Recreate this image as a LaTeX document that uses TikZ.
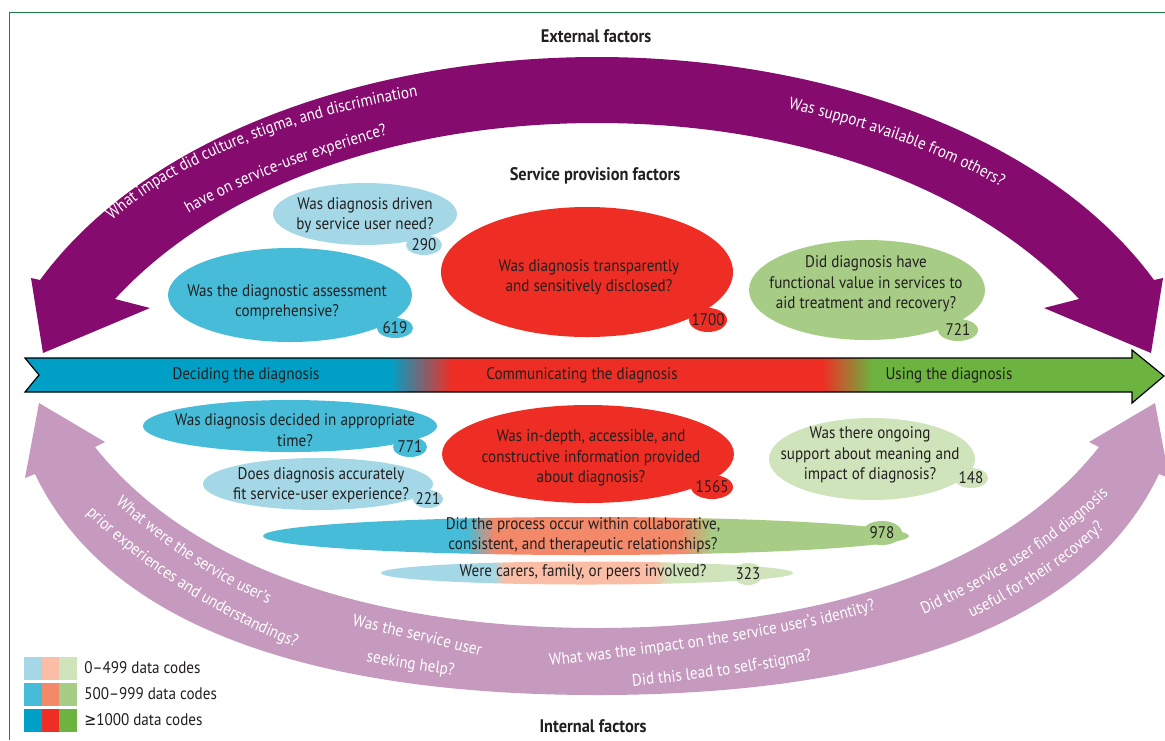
\documentclass[tikz,border=0pt]{standalone}
\usepackage{fontspec}
\setmainfont{PT Sans}[FakeStretch=0.9]
\newfontfamily\symfont{DejaVu Sans}[FakeStretch=0.85]
\usetikzlibrary{decorations.text}

\definecolor{blueL}{RGB}{165,216,230}
\definecolor{orangeL}{RGB}{249,190,165}
\definecolor{greenL}{RGB}{208,228,188}
\definecolor{blueM}{RGB}{71,188,216}
\definecolor{orangeM}{RGB}{243,137,104}
\definecolor{greenM}{RGB}{166,204,133}
\definecolor{blueD}{RGB}{0,160,198}
\definecolor{redD}{RGB}{238,46,36}
\definecolor{greenD}{RGB}{108,179,63}
\definecolor{extPurple}{RGB}{133,12,110}
\definecolor{intPink}{RGB}{197,154,190}
\definecolor{frameGreen}{RGB}{30,125,70}
\definecolor{ink}{RGB}{35,31,32}

\newcommand\qfont{\fontsize{8.4}{10.2}\selectfont}
\newcommand\hfont{\fontsize{9.1}{10}\selectfont\bfseries}

\begin{document}
\begin{tikzpicture}[x=0.5pt,y=-0.5pt,
  qtext/.style={align=center, font=\qfont, text=ink, inner sep=0pt},
  numtext/.style={font=\qfont, text=ink, inner sep=0pt},
  headtext/.style={font=\hfont, text=ink, inner sep=0pt},
  legtext/.style={font=\qfont, text=ink, inner sep=0pt, anchor=west},
  arctext/.style={decorate, decoration={text along path, text align=center,
      text color=white, text={|\qfont|#1}}}]

\useasboundingbox (0,0) rectangle (1165,740);
\fill[white] (0,0) rectangle (1165,740);

% frame
\draw[frameGreen, line width=0.6pt] (1165,12.5) -- (9.5,12.5) -- (9.5,740);

% headings
\node[headtext] (ext) at (596,36) {External factors};
\node[headtext] (svc) at (595,176) {Service provision factors};
\node[headtext] (int) at (593,726) {Internal factors};

% external factors: double-headed arc
\fill[extPurple] (40,280) .. controls (150,130) and (380,57) .. (597,57)
  .. controls (814,57) and (1044,130) .. (1154,280) -- (1163,278) -- (1151,353)
  -- (1044,308) -- (1079,299) .. controls (974,185) and (794,123) .. (597,123)
  .. controls (400,123) and (220,185) .. (115,299) -- (150,308) -- (43,353)
  -- (31,278) -- cycle;
\path[arctext={What impact did culture, stigma, and discrimination}]
  (97,234) .. controls (177,155) and (308,113) .. (438,93);
\path[arctext={have on service-user experience?}]
  (183,217) .. controls (243,180) and (332,150) .. (394,133);
\path[arctext={Was support available from others?}]
  (778,106) .. controls (850,122) and (940,150) .. (1010,192);

% internal factors: double-headed arc
\fill[intPink] (35,474) .. controls (114,640) and (344,695) .. (597,695)
  .. controls (850,695) and (1080,640) .. (1159,474) -- (1169,478) -- (1155,403)
  -- (1089,442) -- (1099,447) .. controls (994,580) and (794,628) .. (597,628)
  .. controls (400,628) and (200,580) .. (95,447) -- (105,442) -- (39,403)
  -- (25,478) -- cycle;
\path[arctext={What were the service user's}]
  (99,489) .. controls (154,539) and (214,584) .. (289,612);
\path[arctext={prior experiences and understandings?}]
  (75,502) .. controls (130,560) and (210,615) .. (310,653);
\path[arctext={Was the service user}]
  (340,623) .. controls (390,634) and (440,645) .. (492,659);
\path[arctext={seeking help?}]
  (355,660) .. controls (390,666) and (430,672) .. (465,677);
\path[arctext={What was the impact on the service user's identity?}]
  (540,667) .. controls (640,655) and (780,640) .. (885,607);
\path[arctext={Did this lead to self-stigma?}]
  (625,687) .. controls (680,682) and (760,672) .. (820,658);
\path[arctext={Did the service user find diagnosis}]
  (912,620) .. controls (980,590) and (1060,545) .. (1118,485);
\path[arctext={useful for their recovery?}]
  (962,622) .. controls (1010,600) and (1070,565) .. (1112,520);

% main process arrow
\draw[line width=0.6pt, path picture={
    \fill[blueD] (0,340) rectangle (390,410);
    \shade[left color=blueD, right color=redD] (390,340) rectangle (452,410);
    \fill[redD] (452,340) rectangle (822,410);
    \shade[left color=redD, right color=greenD] (822,340) rectangle (872,410);
    \fill[greenD] (872,340) rectangle (1170,410);}]
  (25,358) -- (1132,358) -- (1132,350) -- (1164,376) -- (1132,403)
  -- (1132,392) -- (25,392) -- (39,375) -- cycle;
\node[qtext] (decide) at (246,375) {Deciding the diagnosis};
\node[qtext] (commun) at (582,375) {Communicating the diagnosis};
\node[qtext] (use) at (949,375) {Using the diagnosis};

% service provision questions (above the arrow)
\fill[blueL] (365,214) ellipse [x radius=92, y radius=31];
\fill[blueL] (424,245) ellipse [x radius=18, y radius=10];
\node[qtext] (qA) at (365,215) {Was diagnosis driven\\by service user need?};
\node[numtext] (nA) at (424,245) {290};

\fill[blueM] (290,295) ellipse [x radius=122, y radius=47];
\fill[blueM] (395,328) ellipse [x radius=18, y radius=10];
\node[qtext] (qB) at (287,302) {Was the diagnostic assessment\\comprehensive?};
\node[numtext] (nB) at (395,328) {619};

\fill[redD] (587,272) ellipse [x radius=146, y radius=65];
\fill[redD] (708,320) ellipse [x radius=19, y radius=12];
\node[qtext] (qC) at (589,277) {Was diagnosis transparently\\and sensitively disclosed?};
\node[numtext] (nC) at (708,320) {1700};

\fill[greenM] (867,290) ellipse [x radius=118, y radius=50];
\fill[greenM] (958,330) ellipse [x radius=20, y radius=11];
\node[qtext] (qD) at (866,284) {Did diagnosis have\\functional value in services to\\aid treatment and recovery?};
\node[numtext] (nD) at (958,330) {721};

% questions below the arrow
\fill[blueM] (290,426) ellipse [x radius=147, y radius=26];
\fill[blueM] (410,447) ellipse [x radius=17, y radius=10];
\node[qtext] (qE) at (295,430) {Was diagnosis decided in appropriate\\time?};
\node[numtext] (nE) at (410,447) {771};

\fill[blueL] (318,484) ellipse [x radius=115, y radius=26];
\fill[blueL] (428,499) ellipse [x radius=15, y radius=9];
\node[qtext] (qF) at (321,485) {Does diagnosis accurately\\fit service-user experience?};
\node[numtext] (nF) at (428,499) {221};

\fill[redD] (588,454) ellipse [x radius=146, y radius=49];
\fill[redD] (712,487) ellipse [x radius=21, y radius=12];
\node[qtext] (qG) at (591,458) {Was in-depth, accessible, and\\constructive information provided\\about diagnosis?};
\node[numtext] (nG) at (712,487) {1565};

\fill[greenL] (872,459) ellipse [x radius=103, y radius=41];
\fill[greenL] (971,478) ellipse [x radius=17, y radius=10];
\node[qtext] (qH) at (870,455) {Was there ongoing\\support about meaning and\\impact of diagnosis?};
\node[numtext] (nH) at (971,478) {148};

% questions spanning all three stages
\path[path picture={
    \fill[blueM] (250,500) rectangle (467,570);
    \shade[left color=blueM, right color=orangeM] (467,500) rectangle (495,570);
    \fill[orangeM] (495,500) rectangle (680,570);
    \shade[left color=orangeM, right color=greenM] (680,500) rectangle (712,570);
    \fill[greenM] (712,500) rectangle (920,570);}]
  (586,536) ellipse [x radius=323, y radius=19];
\fill[greenM] (882,533) ellipse [x radius=20, y radius=12];
\node[qtext] (qI) at (583,535) {Did the process occur within collaborative,\\consistent, and therapeutic relationships?};
\node[numtext] (nI) at (882,533) {978};

\path[path picture={
    \fill[blueL] (370,550) rectangle (493,600);
    \shade[left color=blueL, right color=orangeL] (493,550) rectangle (505,600);
    \fill[orangeL] (505,550) rectangle (653,600);
    \shade[left color=orangeL, right color=greenL] (653,550) rectangle (670,600);
    \fill[greenL] (670,550) rectangle (800,600);}]
  (587,573) ellipse [x radius=206, y radius=11.5];
\fill[greenL] (748,574) ellipse [x radius=15, y radius=11];
\node[qtext] (qJ) at (583,572) {Were carers, family, or peers involved?};
\node[numtext] (nJ) at (748,574) {323};

% legend
\fill[blueL] (24,657) rectangle (42,680);
\fill[orangeL] (42,657) rectangle (59,680);
\fill[greenL] (59,657) rectangle (77,680);
\fill[blueM] (24,683) rectangle (42,706);
\fill[orangeM] (42,683) rectangle (59,706);
\fill[greenM] (59,683) rectangle (77,706);
\fill[blueD] (24,709) rectangle (42,732);
\fill[redD] (42,709) rectangle (59,732);
\fill[greenD] (59,709) rectangle (77,732);
\node[legtext] (leg1) at (84,668) {0–499 data codes};
\node[legtext] (leg2) at (84,694) {500–999 data codes};
\node[legtext] (leg3) at (84,720) {{\symfont ≥}1000 data codes};
\end{tikzpicture}
\end{document}
